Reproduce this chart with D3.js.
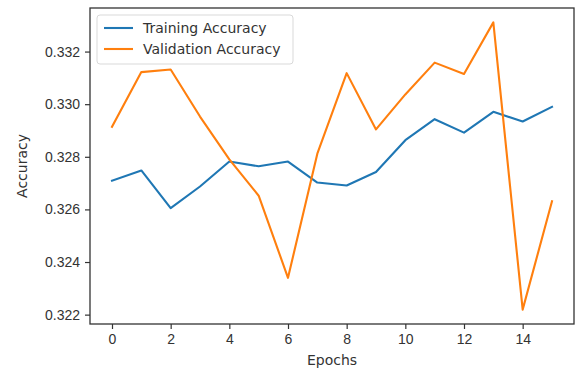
<!DOCTYPE html>
<html>
<head>
<meta charset="utf-8">
<script src="https://cdn.jsdelivr.net/npm/d3@7"></script>
<style>
  body { margin: 0; background: #fff; }
  svg { display: block; font-family: "DejaVu Sans", sans-serif; }
</style>
</head>
<body>
<div id="chart"></div>
<script>
const epochs = d3.range(16);
const trainingAccuracy = [0.32709, 0.32748, 0.32605, 0.32687, 0.32782, 0.32764, 0.32782, 0.32702,
    0.32691, 0.32742, 0.32863, 0.32943, 0.32892, 0.32971, 0.32934, 0.32990];
const validationAccuracy = [0.32914, 0.33122, 0.33132, 0.32953, 0.32790, 0.32652, 0.32340, 0.32812,
    0.33118, 0.32904, 0.33037, 0.33158, 0.33115, 0.33311, 0.32219, 0.32631];
const xTicks = [0, 2, 4, 6, 8, 10, 12, 14];
const yTicks = [0.322, 0.324, 0.326, 0.328, 0.330, 0.332];
const seriesNames = ["Training Accuracy", "Validation Accuracy"];

const W = 575, H = 369;
const margin = { top: 8, right: 1, bottom: 45, left: 90 };
const width = W - margin.left - margin.right,
    height = H - margin.top - margin.bottom;

const svg = d3.select("#chart")
    .append("svg")
    .attr("width", W)
    .attr("height", H)
    .append("g")
    .attr("transform", `translate(${margin.left}, ${margin.top})`);

// matplotlib-like 5% margins
const allVals = trainingAccuracy.concat(validationAccuracy);
const [yMin, yMax] = d3.extent(allVals);
const yPad = (yMax - yMin) * 0.05;
const x = d3.scaleLinear().domain([-0.75, 15.75]).range([0, width]);
const y = d3.scaleLinear().domain([yMin - yPad, yMax + yPad]).range([height, 0]);

const color = d3.scaleOrdinal().domain(seriesNames).range(["#1f77b4", "#ff7f0e"]);

// axes
const xAxis = svg.append("g")
    .attr("transform", `translate(0, ${height})`)
    .call(d3.axisBottom(x).tickValues(xTicks).tickSize(5).tickPadding(5).tickFormat(d3.format("d")));
const yAxis = svg.append("g")
    .call(d3.axisLeft(y).tickValues(yTicks).tickSize(5).tickPadding(5).tickFormat(d3.format(".3f")));

[xAxis, yAxis].forEach(a => {
    a.select(".domain").remove();
    a.selectAll(".tick line").attr("stroke", "#333").attr("stroke-width", 1.2);
    a.selectAll(".tick text").attr("fill", "#333").style("font-size", "14px");
});

// lines
const line = d3.line()
    .x((d, i) => x(epochs[i]))
    .y(d => y(d));

const series = [trainingAccuracy, validationAccuracy];
svg.append("g")
    .selectAll("path")
    .data(series)
    .join("path")
    .attr("d", d => line(d))
    .attr("fill", "none")
    .attr("stroke", (d, i) => color(seriesNames[i]))
    .attr("stroke-width", 2.1)
    .attr("stroke-linejoin", "round")
    .attr("stroke-linecap", "square");

// frame
svg.append("rect")
    .attr("x", 0)
    .attr("y", 0)
    .attr("width", width)
    .attr("height", height)
    .attr("fill", "none")
    .attr("stroke", "#333")
    .attr("stroke-width", 1.3);

// legend
const legend = svg.append("g").attr("transform", "translate(7, 7)");
legend.append("rect")
    .attr("width", 196)
    .attr("height", 49)
    .attr("rx", 3)
    .attr("fill", "#fff")
    .attr("fill-opacity", 0.8)
    .attr("stroke", "#d9d9d9");

const item = legend.selectAll(".legend")
    .data(seriesNames)
    .join("g")
    .attr("class", "legend")
    .attr("transform", (d, i) => `translate(0, ${13 + i * 21})`);

item.append("line")
    .attr("x1", 7)
    .attr("x2", 36)
    .attr("stroke", d => color(d))
    .attr("stroke-width", 2.1);

item.append("text")
    .attr("x", 46)
    .attr("dy", "0.35em")
    .attr("fill", "#333")
    .style("font-size", "14px")
    .text(d => d);

// axis labels
svg.append("text")
    .attr("x", width / 2)
    .attr("y", height + 41)
    .attr("text-anchor", "middle")
    .attr("fill", "#333")
    .style("font-size", "14px")
    .text("Epochs");

svg.append("text")
    .attr("transform", `translate(${-63}, ${height / 2}) rotate(-90)`)
    .attr("text-anchor", "middle")
    .attr("fill", "#333")
    .style("font-size", "14px")
    .text("Accuracy");
</script>
</body>
</html>
